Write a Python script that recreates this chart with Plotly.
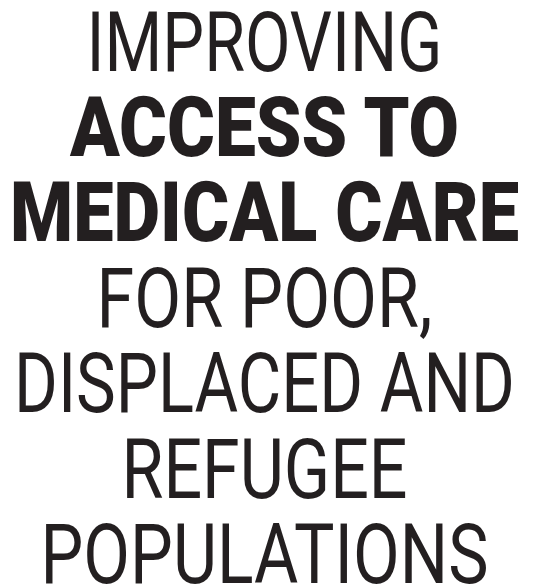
import json
import plotly.graph_objects as go

# ---- content ----
LINES = ["IMPROVING", "ACCESS TO", "MEDICAL CARE", "FOR POOR,",
         "DISPLACED AND", "REFUGEE", "POPULATIONS"]
ROWS = [0, 1, 2, 3, 4, 5, 6]
BOLD = [False, True, True, False, False, False, False]

# ---- style / layout constants ----
FIG_W, FIG_H = 537, 588
CENTER_X = 264.5
FIRST_BASELINE = 71.0      # baseline of the first line, px from top
ROW_PITCH = 85.33
LINE_WIDTHS_PX = [356, 390, 509, 336, 501, 286, 448]
INK = "#231f20"
FAMILY = "Roboto, Liberation Sans, Arial, sans-serif"
SIZE_LIGHT = 84
SIZE_BOLD = 83

# plotly puts a 'middle' text baseline 0.25em below its anchor
first_anchor = FIRST_BASELINE - 0.25 * SIZE_LIGHT
y_top = -first_anchor / ROW_PITCH
y_bot = (FIG_H - first_anchor) / ROW_PITCH

fig = go.Figure()
for bold in (False, True):
    txt = [t for t, b in zip(LINES, BOLD) if b == bold]
    rows = [r for r, b in zip(ROWS, BOLD) if b == bold]
    fig.add_trace(go.Scatter(
        x=[CENTER_X] * len(txt), y=rows, text=txt,
        mode="text", textposition="middle center", cliponaxis=False,
        hoverinfo="skip", showlegend=False,
        textfont=dict(family=FAMILY, size=SIZE_BOLD if bold else SIZE_LIGHT,
                      color=INK, weight=900 if bold else 400),
    ))

fig.update_layout(
    width=FIG_W, height=FIG_H,
    margin=dict(l=0, r=0, t=0, b=0),
    paper_bgcolor="white", plot_bgcolor="white",
    xaxis=dict(range=[0, FIG_W], visible=False, fixedrange=True),
    yaxis=dict(range=[y_bot, y_top], visible=False, fixedrange=True),
    hovermode=False,
)

widths = json.dumps(dict(zip(LINES, LINE_WIDTHS_PX)))
post = """
document.body.style.margin = '0';
document.body.style.overflow = 'hidden';
var gd = document.getElementById('{plot_id}');
var W = %s;
function squeeze(){
  gd.querySelectorAll('g.textpoint text').forEach(function(t){
    var w = W[t.textContent]; if(!w) return;
    var bb = t.getBBox();
    var cx = bb.x + bb.width/2;
    var s = w / bb.width;
    t.setAttribute('transform','translate('+cx+',0) scale('+s+',1) translate('+(-cx)+',0)');
  });
}
squeeze();
if (gd.on) gd.on('plotly_afterplot', squeeze);
setTimeout(squeeze, 60);
""" % widths

fig.write_html("out.html", config={"displayModeBar": False}, post_script=post)
